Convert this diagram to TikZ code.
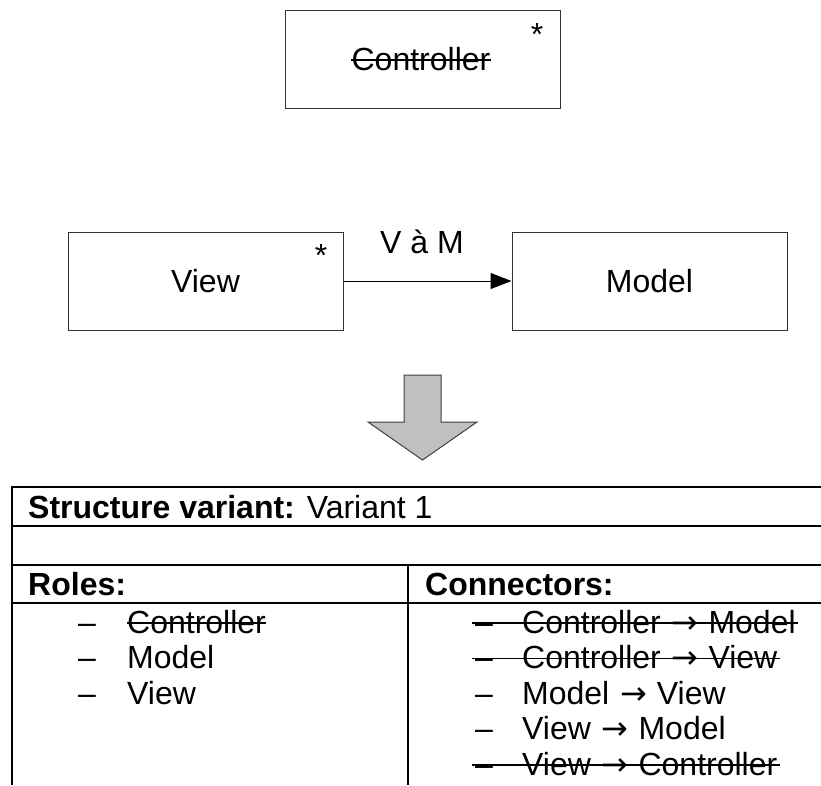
\documentclass[tikz,border=0pt]{standalone}
\usepackage{fontspec}
\setmainfont{Liberation Sans}
\newfontfamily\dejavu{DejaVu Sans}
\usetikzlibrary{arrows.meta}
\newcommand{\rarr}{\hspace{2pt} {\dejavu →} \hspace{1pt}}
\begin{document}
\begin{tikzpicture}[x=1pt,y=-1pt,
  box/.style={draw=black!80, line width=1pt, minimum width=275pt, minimum height=98pt, inner sep=0pt},
  big/.style={font=\fontsize{32}{38}\selectfont, inner sep=0pt},
  txt/.style={font=\fontsize{32}{38}\selectfont, inner sep=0pt, anchor=base west},
  tablerule/.style={line width=2pt, black},
  strike/.style={line width=1.3pt, black},
  link/.style={line width=1pt, -{Triangle[length=21pt,width=16pt]}},
  blockarrow/.style={fill={rgb,255:red,192;green,192;blue,192}, draw=black!75, line width=1pt}
]
\useasboundingbox (0,0) rectangle (821,785);

% top box
\node[box] (ctrl) at (422.5,59) {};
\node[big, anchor=base] (ctrlt) at (421,70) {Controller};
\node[big] (ctrls) at (537,34) {*};
\draw[strike] ([yshift=10pt]ctrlt.base west) -- ([yshift=10pt]ctrlt.base east);

% view and model
\node[box] (view) at (205.5,281) {};
\node[big, anchor=base] (viewt) at (205.5,292.5) {View};
\node[big] (views) at (321,255) {*};
\node[box] (model) at (649.5,281) {};
\node[big, anchor=base] (modelt) at (649.5,292.5) {Model};
\draw[link] (view) -- (model);
\node[big, anchor=base] (vm) at (422,253) {V à M};

% block arrow
\draw[blockarrow] (404,375) -- (441,375) -- (441,422) -- (477,422) -- (422.5,460) -- (368,422) -- (404,422) -- cycle;

% table
\draw[tablerule] (821,487) -- (12,487) -- (12,785);
\draw[tablerule] (12,526) -- (821,526);
\draw[tablerule] (12,565) -- (821,565);
\draw[tablerule] (12,603) -- (821,603);
\draw[tablerule] (408,565) -- (408,785);

\node[txt] (title) at (28,518) {\bfseries Structure variant: \mdseries Variant 1};
\node[txt] (roles) at (28,595) {\bfseries Roles:};
\node[txt] (conns) at (425,595) {\bfseries Connectors:};

% roles
\node[txt] (rd1) at (78,633) {–};
\node[txt] (r1) at (127,633) {Controller};
\draw[strike] ([yshift=10pt]r1.base west) -- ([yshift=10pt]r1.base east);
\node[txt] (rd2) at (78,668.5) {–};
\node[txt] (r2) at (127,668.5) {Model};
\node[txt] (rd3) at (78,704) {–};
\node[txt] (r3) at (127,704) {View};

% connectors
\node[txt] (cd1) at (475,633) {–};
\node[txt] (c1) at (522,633) {Controller\rarr Model};
\draw[strike] ([xshift=-3pt,yshift=10pt]cd1.base west) -- ([xshift=2pt,yshift=10pt]c1.base east);
\node[txt] (cd2) at (475,668.5) {–};
\node[txt] (c2) at (522,668.5) {Controller\rarr View};
\draw[strike] ([xshift=-3pt,yshift=10pt]cd2.base west) -- ([xshift=2pt,yshift=10pt]c2.base east);
\node[txt] (cd3) at (475,704) {–};
\node[txt] (c3) at (522,704) {Model\rarr View};
\node[txt] (cd4) at (475,739.5) {–};
\node[txt] (c4) at (522,739.5) {View\rarr Model};
\node[txt] (cd5) at (475,775) {–};
\node[txt] (c5) at (522,775) {View\rarr Controller};
\draw[strike] ([xshift=-3pt,yshift=10pt]cd5.base west) -- ([xshift=2pt,yshift=10pt]c5.base east);
\end{tikzpicture}
\end{document}
